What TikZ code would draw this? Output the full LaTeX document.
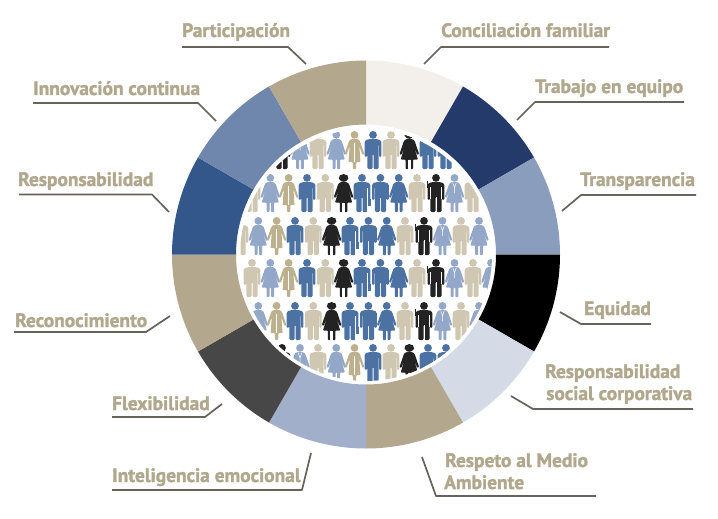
\documentclass[tikz,border=0pt]{standalone}
\usepackage{fontspec}
\setmainfont{PT Sans}[BoldFeatures={FakeBold=1.6}]
\definecolor{tanT}{HTML}{B0A78C}
\definecolor{lineC}{HTML}{66635A}
\definecolor{figTan}{HTML}{CFC7B1}
\definecolor{figCoat}{HTML}{BDB08E}
\definecolor{figBlue}{HTML}{4C72A3}
\definecolor{figLt}{HTML}{93A7C8}
\definecolor{figBlk}{HTML}{232323}
\definecolor{sConc}{HTML}{F3EFEA}
\definecolor{sTrab}{HTML}{233A6B}
\definecolor{sTran}{HTML}{8A9DBC}
\definecolor{sRsc}{HTML}{D5DAE7}
\definecolor{sTan}{HTML}{B3A88D}
\definecolor{sInte}{HTML}{A2AFCB}
\definecolor{sFlex}{HTML}{474747}
\definecolor{sResp}{HTML}{33568B}
\definecolor{sInno}{HTML}{6F86AD}
\tikzset{
 lab/.style={anchor=base west,inner sep=0pt,text=tanT,font=\fontsize{19.4}{19.4}\selectfont\bfseries},
 leader/.style={draw=lineC,line width=1.7pt,line join=round}
}
\newcommand\sector[3]{%
 \fill[#3] (#1:130pt) -- (#1:194pt) arc[start angle=#1,end angle=#2,radius=194pt] -- (#2:130pt) arc[start angle=#2,end angle=#1,radius=130pt] -- cycle;}
\newcommand\figman[3]{\begin{scope}[shift={(#1,#2)}]
 \fill[#3] (0,3.9) circle[radius=3.9pt];
 \fill[#3,rounded corners=1.2pt] (-8.4,26)--(-8.4,10)--(-5,8.2)--(5,8.2)--(8.4,10)--(8.4,26)--(6,26)--(6,13)--(5.6,13)--(5.6,38)--(.5,38)--(.5,23)--(-.5,23)--(-.5,38)--(-5.6,38)--(-5.6,13)--(-6,13)--(-6,26)--cycle;
 \end{scope}}
\newcommand\figbag[3]{\figman{#1}{#2}{#3}\begin{scope}[shift={(#1,#2)}]
 \fill[#3] (5.5,24.5) rectangle (9.4,31.5);\draw[white,line width=.4pt] (5.4,14)--(5.4,38);
 \end{scope}}
\newcommand\figgun[3]{\figman{#1}{#2}{#3}\begin{scope}[shift={(#1,#2)}]
 \fill[#3] (-9,7) rectangle (-7.6,14);\draw[white,line width=.7pt] (0,23)--(0,38) (-5.8,13)--(-5.8,25) (5.8,13)--(5.8,25);
 \end{scope}}
\newcommand\figwoman[3]{\begin{scope}[shift={(#1,#2)}]
 \fill[#3] (0,3.9) circle[radius=3.9pt];
 \fill[#3,rounded corners=.8pt] (-3.4,8.2)--(3.4,8.2)--(5.4,10)--(9.8,23)--(8,24)--(4.2,14)--(8.6,28.5)--(3.8,28.5)--(3.8,38)--(.8,38)--(.8,28.5)--(-.8,28.5)--(-.8,38)--(-3.8,38)--(-3.8,28.5)--(-8.6,28.5)--(-4.2,14)--(-8,24)--(-9.8,23)--(-5.4,10)--cycle;
 \end{scope}}
\newcommand\figsuit[3]{\figwoman{#1}{#2}{#3}\begin{scope}[shift={(#1,#2)}]
 \draw[white,line width=.5pt] (-1.8,8.5)--(0,14)--(1.8,8.5) (0,14)--(0,19);
 \end{scope}}
\newcommand\figblk[3]{\figwoman{#1}{#2}{#3}\begin{scope}[shift={(#1,#2)}]
 \fill[#3] (-4.8,4.8) -- (-3.6,1) -- (3.6,1) -- (4.8,4.8) -- (2,7.4) -- (-2,7.4) -- cycle;
 \draw[white,line width=.5pt] (-1,28.5)--(-1,38) (1,28.5)--(1,38);
 \end{scope}}
\newcommand\figcoat[3]{\begin{scope}[shift={(#1,#2)}]
 \fill[#3] (0,3.9) circle[radius=3.9pt];
 \fill[#3,rounded corners=.8pt] (-3.6,8.2)--(3.6,8.2)--(5.4,10)--(9.8,23)--(8,24)--(4.8,15)--(6,31)--(1.8,31)--(1.6,38)--(-1.6,38)--(-1.8,31)--(-6,31)--(-4.8,15)--(-8,24)--(-9.8,23)--(-5.4,10)--cycle;
 \draw[white,line width=.35pt] (0,12)--(0,31);
 \end{scope}}
\newcommand\rowA[2]{%
 \foreach \k/\d/\c in {man/0/figTan,woman/18.3/figLt,coat/36.6/figCoat,man/55/figBlue,man/73.3/figTan,blk/91.6/figBlk,bag/110/figBlue,man/128.4/figBlue,woman/146.7/figBlue,man/165/figTan,gun/184/figBlk,suit/202.5/figLt,man/221/figTan,woman/239/figLt}
  {\pgfmathsetmacro\xx{#1+\d}\csname fig\k\endcsname{\xx}{#2}{\c}}}
\newcommand\rowB[2]{%
 \foreach \k/\d/\c in {gun/0/figBlk,suit/18/figLt,man/36/figTan,woman/54.3/figLt,coat/72.5/figCoat,man/91/figBlue,man/109/figTan,blk/127.3/figBlk,man/146/figBlue,man/164/figBlue}
  {\pgfmathsetmacro\xx{#1+\d}\csname fig\k\endcsname{\xx}{#2}{\c}}}
\newcommand\leaderline[4]{%
 \coordinate (#1a) at (#2);\coordinate (#1b) at (#3);\coordinate (#1c) at (#4);
 \draw[leader] (#1a)--(#1b)--(#1c);}
\begin{document}
\begin{tikzpicture}[x=1pt,y=-1pt]
\useasboundingbox (0,0) rectangle (718,519);
\begin{scope}[shift={(366,254.5)},y=1pt]
 \sector{60}{90}{sConc}
 \sector{30}{60}{sTrab}
 \sector{0}{30}{sTran}
 \sector{-30}{0}{black}
 \sector{-60}{-30}{sRsc}
 \sector{-90}{-60}{sTan}
 \sector{-120}{-90}{sInte}
 \sector{-150}{-120}{sFlex}
 \sector{-180}{-150}{sTan}
 \sector{150}{180}{sResp}
 \sector{120}{150}{sInno}
 \sector{90}{120}{sTan}
\end{scope}
\begin{scope}
 \clip (366,255) circle[radius=126pt];
 \rowB{282}{131}
 \rowA{252}{174}
 \rowA{240}{217}
 \rowA{252}{259}
 \rowA{240}{302}
 \rowB{282}{344}
\end{scope}
\node[lab] (participacion) at (182,37) {Participación};
\node[lab] (conciliacion) at (441,37) {Conciliación familiar};
\node[lab] (trabajo) at (535,93) {Trabajo en equipo};
\node[lab] (innovacion) at (33,95) {Innovación continua};
\node[lab] (transparencia) at (580,186) {Transparencia};
\node[lab] (responsabilidad) at (18,186) {Responsabilidad};
\node[lab] (equidad) at (584,315) {Equidad};
\node[lab] (reconocimiento) at (15,327) {Reconocimiento};
\node[lab] (rsc1) at (545,378) {Responsabilidad};
\node[lab] (rsc2) at (546,400) {social corporativa};
\node[lab] (flexibilidad) at (112,410) {Flexibilidad};
\node[lab] (inteligencia) at (112,482) {Inteligencia emocional};
\node[lab] (respeto1) at (445,467) {Respeto al Medio};
\node[lab] (respeto2) at (444,489) {Ambiente};
\leaderline{lp}{182,47}{288,47}{306,64}
\leaderline{li}{33,103}{198,103}{216,121}
\leaderline{lr}{19,194.5}{152,194.5}{169,212}
\leaderline{lc}{14,332}{146,332}{170,316}
\leaderline{lf}{112,417}{205,417}{222,404}
\leaderline{lg}{112,490}{302,490}{311,453}
\leaderline{lm}{422,457}{436,496}{596,496}
\leaderline{ls}{511,396}{533,409}{693,409}
\leaderline{le}{560,312}{581,324}{651,324}
\leaderline{lt}{562,211}{581,195}{696,195}
\leaderline{lw}{517,120}{535,102}{684,102}
\leaderline{ln}{424,64}{441,47}{609,47}
\end{tikzpicture}
\end{document}
